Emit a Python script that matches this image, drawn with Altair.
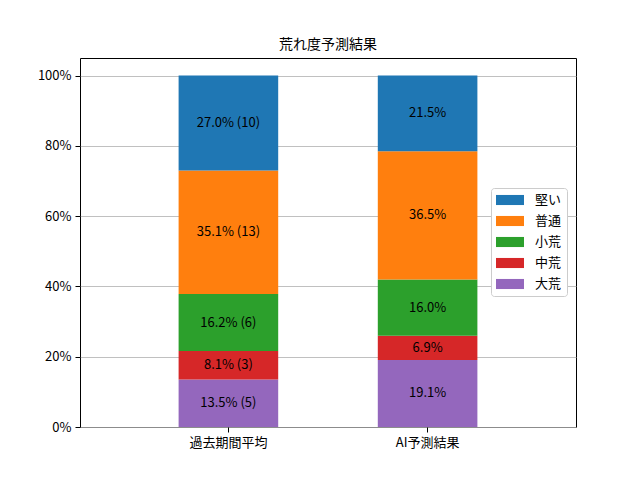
import altair as alt
import pandas as pd

categories = ["過去期間平均", "AI予測結果"]
levels = ["大荒", "中荒", "小荒", "普通", "堅い"]          # bottom to top
legend_order = ["堅い", "普通", "小荒", "中荒", "大荒"]
legend_colors = ["#1f77b4", "#ff7f0e", "#2ca02c", "#d62728", "#9467bd"]

past_pct = [13.51, 8.11, 16.22, 35.14, 27.03]
past_counts = [5, 3, 6, 13, 10]
ai_pct = [19.1, 6.9, 16.0, 36.5, 21.5]

rows = []
for cat, pcts, counts in [(categories[0], past_pct, past_counts),
                          (categories[1], ai_pct, None)]:
    for i, (lv, p) in enumerate(zip(levels, pcts)):
        label = f"{p:.1f}%" + (f" ({counts[i]})" if counts else "")
        rows.append(dict(cat=cat, level=lv, pct=p / 100, order=i, label=label))
df = pd.DataFrame(rows)

FONT = "Noto Sans CJK JP"

base = alt.Chart(df).transform_stack(
    stack="pct", as_=["y0", "y1"], groupby=["cat"], sort=[{"field": "order"}]
).transform_calculate(mid="(datum.y0 + datum.y1) / 2")

x = alt.X("cat:N", sort=categories,
          scale=alt.Scale(paddingInner=0.5, paddingOuter=0.495),
          axis=alt.Axis(title=None, labelAngle=0, grid=False, domain=False,
                        tickSize=5, tickColor="black", labelPadding=4,
                        labelFont=FONT, labelFontSize=13, labelColor="black"))

yscale = alt.Scale(domain=[0, 1.05], nice=False)

bars = base.mark_bar().encode(
    x=x,
    y=alt.Y("y0:Q", scale=yscale,
            axis=alt.Axis(title=None, format=".0%", values=[0, 0.2, 0.4, 0.6, 0.8, 1.0],
                          grid=True, gridColor="#b0b0b0", gridWidth=0.8, domain=False,
                          tickSize=5, tickColor="black", labelPadding=4,
                          labelFont=FONT, labelFontSize=13, labelColor="black")),
    y2="y1:Q",
    color=alt.Color("level:N",
                    scale=alt.Scale(domain=legend_order, range=legend_colors),
                    legend=alt.Legend(title=None, orient="none", legendX=411, legendY=130,
                                      symbolType="M-1,-0.72H3V0.72H-1Z", symbolSize=196,
                                      symbolStrokeWidth=0, labelFont=FONT, labelFontSize=13,
                                      labelColor="black", labelOffset=25,
                                      strokeColor="#cccccc", fillColor="white",
                                      padding=5, cornerRadius=3, rowPadding=7)),
)

texts = base.mark_text(font=FONT, fontSize=13, color="black", baseline="middle").encode(
    x=alt.X("cat:N", sort=categories),
    y=alt.Y("mid:Q", scale=yscale),
    text="label:N",
)

chart = alt.layer(bars, texts).properties(
    width=496, height=369,
    title=alt.TitleParams("荒れ度予測結果", font=FONT, fontSize=14, fontWeight="normal",
                          color="black", offset=6),
    padding={"left": 72, "top": 50, "right": 40, "bottom": 30},
    autosize="none",
).configure_view(stroke="black", strokeWidth=1)

chart.save("out.html", embed_options={"renderer": "svg", "actions": False})
